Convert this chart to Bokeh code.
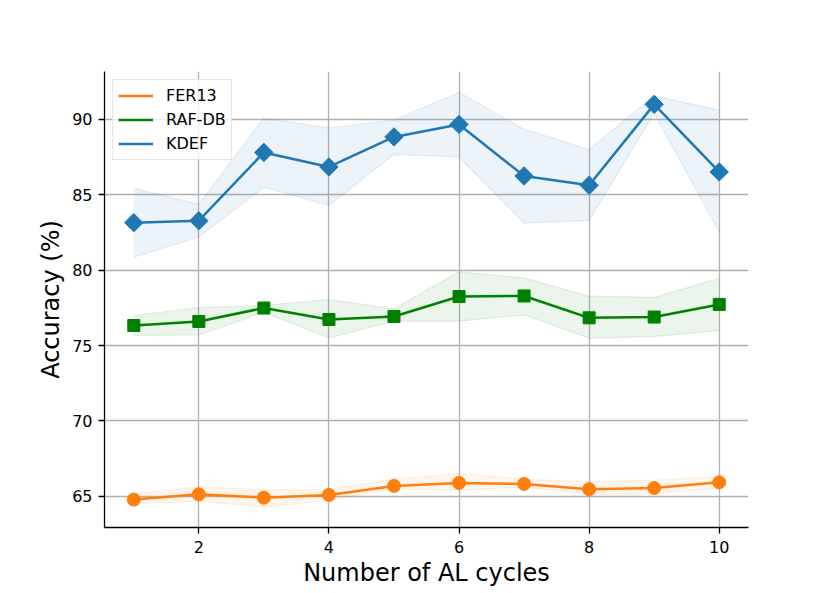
import numpy as np
from bokeh.plotting import figure
from bokeh.models import Range1d, FixedTicker, Legend, LegendItem
from bokeh.embed import file_html
from bokeh.resources import INLINE

cycles = [1, 2, 3, 4, 5, 6, 7, 8, 9, 10]
fer13_mean = [64.78, 65.13, 64.91, 65.09, 65.69, 65.89, 65.82, 65.47, 65.55, 65.93]
fer13_upper = [65.18, 65.62, 65.44, 65.44, 66.13, 66.51, 66.13, 65.95, 66.07, 66.29]
fer13_lower = [64.51, 64.67, 64.29, 64.73, 65.51, 65.40, 65.62, 65.11, 65.18, 65.55]
raf_mean = [76.33, 76.60, 77.49, 76.73, 76.93, 78.25, 78.29, 76.84, 76.89, 77.73]
raf_upper = [77.00, 77.51, 77.67, 78.04, 77.44, 79.89, 79.49, 78.27, 78.20, 79.45]
raf_lower = [75.67, 75.71, 77.20, 75.51, 76.62, 76.62, 77.04, 75.49, 75.60, 76.00]
kdef_mean = [83.15, 83.28, 87.81, 86.85, 88.84, 89.67, 86.25, 85.63, 91.00, 86.52]
kdef_upper = [85.45, 84.37, 90.10, 89.44, 89.95, 91.80, 89.36, 88.00, 91.57, 90.62]
kdef_lower = [80.86, 82.20, 85.50, 84.30, 87.67, 87.51, 83.13, 83.30, 90.40, 82.53]
x_ticks = [2, 4, 6, 8, 10]
y_ticks = [65, 70, 75, 80, 85, 90]

FONT = "DejaVu Sans"

p = figure(output_backend="svg", toolbar_location=None,
           width=822, height=585,
           frame_width=644, frame_height=456,
           min_border_left=104, min_border_top=71, min_border_right=74, min_border_bottom=58,
           x_range=Range1d(0.55, 10.45), y_range=Range1d(62.93, 93.18))
p.outline_line_color = None
p.background_fill_color = "white"
p.border_fill_color = "white"

for ax in (p.xaxis, p.yaxis):
    ax.axis_line_color = "black"
    ax.axis_line_width = 1.3
    ax.major_tick_line_color = "black"
    ax.major_tick_line_width = 1.3
    ax.major_tick_out = 6
    ax.major_tick_in = 0
    ax.minor_tick_line_color = None
    ax.major_label_text_font = FONT
    ax.major_label_text_font_size = "16px"
    ax.major_label_text_color = "black"
    ax.axis_label_text_font = FONT
    ax.axis_label_text_font_size = "24px"
    ax.axis_label_text_font_style = "normal"
    ax.axis_label_text_color = "black"

p.xaxis.ticker = FixedTicker(ticks=x_ticks)
p.yaxis.ticker = FixedTicker(ticks=y_ticks)
p.xaxis.major_label_standoff = 7
p.yaxis.major_label_standoff = 6
p.xaxis.axis_label = "Number of AL cycles"
p.yaxis.axis_label = "Accuracy (%)"
p.xaxis.axis_label_standoff = 3
p.yaxis.axis_label_standoff = 4

p.xgrid.ticker = FixedTicker(ticks=x_ticks)
p.ygrid.ticker = FixedTicker(ticks=y_ticks)
p.grid.grid_line_color = "#b0b0b0"
p.grid.grid_line_width = 1.3

series = [
    ("FER13", "#ff7f0e", fer13_mean, fer13_upper, fer13_lower, "circle", 13, 0.0),
    ("RAF-DB", "#008000", raf_mean, raf_upper, raf_lower, "square", 12, 0.0),
    ("KDEF", "#1f77b4", kdef_mean, kdef_upper, kdef_lower, "square", 13, np.pi / 4),
]

items = []
for name, color, mean, up, lo, marker, size, ang in series:
    p.varea(x=cycles, y1=lo, y2=up, fill_color=color, fill_alpha=0.08)
    p.line(x=cycles, y=up, line_color=color, line_alpha=0.1, line_width=1.3)
    p.line(x=cycles, y=lo, line_color=color, line_alpha=0.1, line_width=1.3)

for name, color, mean, up, lo, marker, size, ang in series:
    r = p.line(x=cycles, y=mean, line_color=color, line_width=2.5)
    p.scatter(x=cycles, y=mean, marker=marker, size=size, angle=ang,
              fill_color=color, line_color=color)
    items.append(LegendItem(label=name, renderers=[r]))

legend = Legend(items=items, location="top_left", margin=8,
                label_text_font=FONT, label_text_font_size="16px",
                label_text_color="black",
                glyph_width=35, glyph_height=21, label_height=21,
                label_standoff=13, spacing=3, padding=5,
                border_line_color="#cccccc", border_line_width=1,
                background_fill_color="white", background_fill_alpha=0.8)
p.add_layout(legend, "center")

open("out.html", "w").write(file_html(p, INLINE))
